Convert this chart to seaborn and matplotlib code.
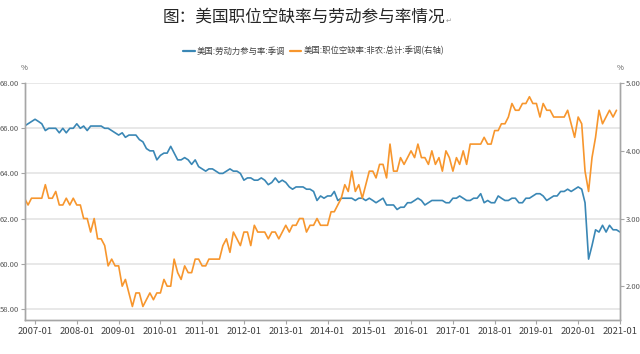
import numpy as np
import pandas as pd
import matplotlib
matplotlib.use("Agg")
import matplotlib.pyplot as plt
import matplotlib.dates as mdates
from matplotlib.lines import Line2D
import seaborn as sns

# ---------------- data ----------------
start_month = "2006-10-01"
lfpr = [66.1, 66.2, 66.3,
        66.4, 66.3, 66.2, 65.9, 66.0, 66.0, 66.0, 65.8, 66.0, 65.8, 66.0, 66.0,
        66.2, 66.0, 66.1, 65.9, 66.1, 66.1, 66.1, 66.1, 66.0, 66.0, 65.9, 65.8,
        65.7, 65.8, 65.6, 65.7, 65.7, 65.7, 65.5, 65.4, 65.1, 65.0, 65.0, 64.6,
        64.8, 64.9, 64.9, 65.2, 64.9, 64.6, 64.6, 64.7, 64.6, 64.4, 64.6, 64.3,
        64.2, 64.1, 64.2, 64.2, 64.1, 64.0, 64.0, 64.1, 64.2, 64.1, 64.1, 64.0,
        63.7, 63.8, 63.8, 63.7, 63.7, 63.8, 63.7, 63.5, 63.6, 63.8, 63.6, 63.7,
        63.6, 63.4, 63.3, 63.4, 63.4, 63.4, 63.3, 63.3, 63.2, 62.8, 63.0, 62.9,
        63.0, 63.0, 63.2, 62.8, 62.9, 62.9, 62.9, 62.9, 62.8, 62.9, 62.9, 62.8,
        62.9, 62.8, 62.7, 62.8, 62.9, 62.6, 62.6, 62.6, 62.4, 62.5, 62.5, 62.7,
        62.7, 62.8, 62.9, 62.8, 62.6, 62.7, 62.8, 62.8, 62.8, 62.8, 62.7, 62.7,
        62.9, 62.9, 63.0, 62.9, 62.8, 62.8, 62.9, 62.9, 63.1, 62.7, 62.8, 62.7,
        62.7, 63.0, 62.9, 62.8, 62.8, 62.9, 62.9, 62.7, 62.7, 62.9, 62.9, 63.0,
        63.1, 63.1, 63.0, 62.8, 62.9, 63.0, 63.0, 63.2, 63.2, 63.3, 63.2, 63.3,
        63.4, 63.3, 62.7, 60.2, 60.8, 61.5, 61.4, 61.7, 61.4, 61.7, 61.5, 61.5,
        61.4]
openings = [3.3, 3.2, 3.3,
            3.3, 3.3, 3.3, 3.5, 3.3, 3.3, 3.4, 3.2, 3.2, 3.3, 3.2, 3.3,
            3.2, 3.2, 3.0, 3.0, 2.8, 3.0, 2.7, 2.7, 2.6, 2.3, 2.4, 2.3,
            2.3, 2.0, 2.1, 1.9, 1.7, 1.9, 1.9, 1.7, 1.8, 1.9, 1.8, 1.9,
            1.9, 2.1, 2.0, 2.0, 2.4, 2.2, 2.1, 2.3, 2.2, 2.2, 2.4, 2.4,
            2.3, 2.3, 2.4, 2.4, 2.4, 2.4, 2.6, 2.7, 2.5, 2.8, 2.7, 2.6,
            2.8, 2.8, 2.6, 2.9, 2.8, 2.8, 2.8, 2.7, 2.8, 2.8, 2.7, 2.8,
            2.9, 2.8, 2.9, 2.9, 3.0, 3.0, 2.8, 2.9, 2.9, 3.0, 2.9, 2.9,
            2.9, 3.1, 3.1, 3.2, 3.3, 3.5, 3.4, 3.7, 3.4, 3.5, 3.3, 3.5,
            3.7, 3.7, 3.6, 3.8, 3.8, 3.6, 4.1, 3.7, 3.7, 3.9, 3.8, 3.9,
            4.0, 3.9, 4.1, 3.9, 3.9, 3.8, 4.0, 3.8, 3.9, 3.7, 4.0, 3.9,
            3.7, 3.9, 3.8, 4.0, 3.8, 4.1, 4.1, 4.1, 4.1, 4.2, 4.1, 4.1,
            4.3, 4.3, 4.4, 4.4, 4.5, 4.7, 4.6, 4.6, 4.7, 4.7, 4.8, 4.7,
            4.7, 4.5, 4.7, 4.6, 4.6, 4.5, 4.5, 4.5, 4.5, 4.6, 4.4, 4.2,
            4.5, 4.4, 3.7, 3.4, 3.9, 4.2, 4.6, 4.4, 4.5, 4.6, 4.5, 4.6]
tick_years = list(range(2007, 2022))
left_ticks = [58, 60, 62, 64, 66, 68]
right_ticks = [2, 3, 4, 5]

title = "图：美国职位空缺率与劳动参与率情况"
name_lfpr = "美国:劳动力参与率:季调"
name_open = "美国:职位空缺率:非农:总计:季调(右轴)"

df_l = pd.DataFrame({"date": pd.date_range(start_month, periods=len(lfpr), freq="MS"),
                     "value": lfpr})
df_o = pd.DataFrame({"date": pd.date_range(start_month, periods=len(openings), freq="MS"),
                     "value": openings})

# ---------------- style ----------------
sns.set_style("white")
plt.rcParams["font.family"] = ["Noto Sans CJK SC", "DejaVu Sans"]

BLUE = "#3a87b5"
ORANGE = "#f7962d"
GRID = "#e4e4e4"
SPINE = "#a6a6a6"
TXT = "#595959"

fig = plt.figure(figsize=(6.4, 3.54), dpi=100)
ax = fig.add_axes([0.0383, 0.096, 0.9305, 0.669])
ax2 = ax.twinx()

sns.lineplot(data=df_l, x="date", y="value", ax=ax, color=BLUE, linewidth=1.2)
sns.lineplot(data=df_o, x="date", y="value", ax=ax2, color=ORANGE, linewidth=1.2)

ax.set_xlim(df_l["date"].iloc[0], df_l["date"].iloc[-1])
ax.set_ylim(57.5, 68)
ax2.set_ylim(1.5, 5.0)

ax.set_yticks(left_ticks)
ax.set_yticklabels([f"{v:.2f}" for v in left_ticks])
ax2.set_yticks(right_ticks)
ax2.set_yticklabels([f"{v:.2f}" for v in right_ticks])

xt = [pd.Timestamp(f"{y}-01-01") for y in tick_years]
ax.set_xticks(xt)
ax.set_xticklabels([f"{y}-01" for y in tick_years])

for a in (ax, ax2):
    a.set_xlabel("")
    a.set_ylabel("")
    for s in a.spines.values():
        s.set_color(SPINE)
        s.set_linewidth(1.0)
    a.spines["top"].set_visible(False)

ax.yaxis.grid(True, color=GRID, linewidth=1.2)
ax.set_axisbelow(True)
ax.tick_params(axis="y", which="both", length=3, width=0.8, color=SPINE,
               labelsize=5.5, labelcolor=TXT, pad=1)
ax2.tick_params(axis="y", which="both", length=3, width=0.8, color=SPINE,
                labelsize=5.5, labelcolor=TXT, pad=1)
ax.tick_params(axis="x", length=3, width=0.8, color=SPINE, labelsize=6.8,
               labelcolor="#404040", pad=2, direction="out")
ax.tick_params(axis="x", bottom=True)

# percent unit labels
fig.text(24 / 640, 1 - 68 / 354, "%", fontsize=5.5, color=TXT, ha="center", va="center")
fig.text(620 / 640, 1 - 68 / 354, "%", fontsize=5.5, color=TXT, ha="center", va="center")

# title
fig.text(0.475, 1 - 17 / 354, title, fontsize=12, color="#262626", ha="center", va="center")
fig.text(0.697, 1 - 21 / 354, "↵", fontsize=5, color="#999999", ha="left", va="center",
         family=["DejaVu Sans"])

# legend
handles = [Line2D([0], [0], color=BLUE, lw=1.6), Line2D([0], [0], color=ORANGE, lw=1.6)]
fig.legend(handles, [name_lfpr, name_open], loc="center", ncol=2,
           bbox_to_anchor=(0.49, 1 - 51 / 354), frameon=False, fontsize=6.0,
           handlelength=1.4, handletextpad=0.25, columnspacing=0.5,
           labelcolor="#404040")

fig.savefig("out.png", dpi=100)
